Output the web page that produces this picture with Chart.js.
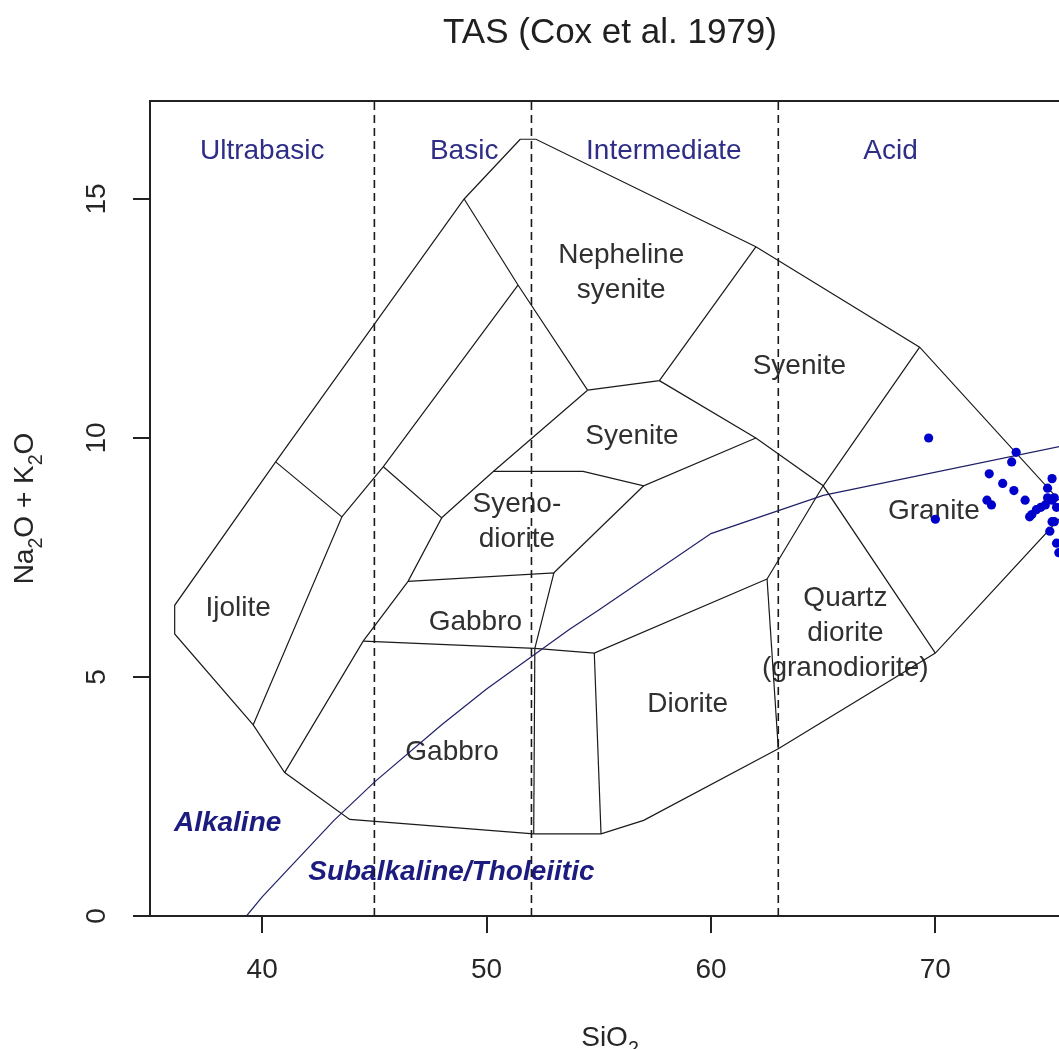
<!DOCTYPE html>
<html>
<head>
<meta charset="utf-8">
<script src="https://cdn.jsdelivr.net/npm/chart.js@4.4.1/dist/chart.umd.min.js"></script>
<style>
  html, body { margin: 0; padding: 0; background: #ffffff; overflow: hidden; }
  #wrap { width: 1059px; height: 1049px; overflow: hidden; position: relative; }
  canvas { display: block; }
</style>
</head>
<body>
<div id="wrap"><canvas id="tas" width="1110" height="1049"></canvas></div>
<script>
const FAMILY = "'Liberation Sans', Arial, Helvetica, sans-serif";

// Sample analyses (wt.%)
const sampleSiO2    = [69.7, 73.6, 73.4, 72.4, 73.0, 73.5, 74.0, 72.3, 72.5, 70.0, 75.2, 75.0, 75.0, 75.2, 75.3, 74.9, 74.7, 74.5, 74.3, 74.2, 75.4, 75.2, 75.3, 75.1, 75.4, 75.5];
const sampleAlkalis = [10.0, 9.7, 9.5, 9.25, 9.05, 8.9, 8.7, 8.7, 8.6, 8.3, 9.15, 8.95, 8.75, 8.7, 8.75, 8.6, 8.55, 8.5, 8.4, 8.35, 8.55, 8.25, 8.25, 8.05, 7.8, 7.6];

// Axis ranges and ticks
const xRange = [35, 76];
const yRange = [0, 17.05];
const xTickValues = [40, 50, 60, 70];
const yTickValues = [0, 5, 10, 15];

// Outer limit of the plutonic fields (SiO2, Na2O+K2O)
const fieldOutline = [[51.5, 16.25], [52.2, 16.25], [62, 14], [69.3, 11.9], [75.9, 8.5], [70, 5.5], [63, 3.5], [57, 2.0], [55.1, 1.72], [52.1, 1.72], [43.9, 2.02], [41, 3.0], [39.6, 4.0], [36.1, 5.9], [36.1, 6.5], [40.6, 9.5], [49, 15], [51.5, 16.25]];

// Internal field boundaries
const ijoliteEdge      = [[40.6, 9.5], [43.55, 8.35], [39.6, 4.0]];
const basicStripEdge   = [[43.55, 8.35], [45.4, 9.4], [51.4, 13.2]];
const nephSyeniteLeft  = [[49, 15], [51.4, 13.2], [54.5, 11.0]];
const nephSyeniteBase  = [[54.5, 11.0], [57.7, 11.2], [62, 14]];
const syeniteBase      = [[57.7, 11.2], [62, 10], [65, 9], [70, 5.5]];
const graniteEdge      = [[69.3, 11.9], [65, 9], [62.5, 7.05]];
const syeniteLeft      = [[54.5, 11.0], [50.3, 9.3], [48, 8.33]];
const gabbroWest       = [[45.4, 9.4], [48, 8.33], [46.5, 7.0], [44.5, 5.75], [41, 3.0]];
const syenodioriteTop  = [[50.3, 9.3], [54.3, 9.3], [57, 9.0], [62, 10]];
const gabbroUpperTop   = [[46.5, 7.0], [53, 7.18], [52.15, 5.6]];
const gabbroUpperBase  = [[44.5, 5.75], [52.15, 5.6], [54.8, 5.5], [62.5, 7.05]];
const syenodioriteEast = [[53, 7.18], [57, 9.0]];
const gabbroLowerEast  = [[52.15, 5.6], [52.1, 1.72]];
const dioriteWest      = [[54.8, 5.5], [55.1, 1.72]];
const dioriteEast      = [[62.5, 7.05], [63, 3.5]];
const fieldEdges = [ijoliteEdge, basicStripEdge, nephSyeniteLeft, nephSyeniteBase, syeniteBase, graniteEdge,
  syeniteLeft, gabbroWest, syenodioriteTop, gabbroUpperTop, gabbroUpperBase, syenodioriteEast,
  gabbroLowerEast, dioriteWest, dioriteEast];

// Alkaline / subalkaline divide
const alkalineDivide = [[39.3, 0], [40, 0.4], [43.2, 2], [45, 2.8], [48, 4], [50, 4.75], [53.7, 6], [55, 6.4], [60, 8], [65, 8.8], [77.4, 10]];

// Silica classes
const silicaBounds = [45, 52, 63];
const silicaClassNames = ['Ultrabasic', 'Basic', 'Intermediate', 'Acid'];
const silicaClassX = [40.0, 49.0, 57.9, 68.0];
const silicaClassY = [16.0, 16.0, 16.0, 16.0];

// Field names
const rockNames = ['Ijolite', 'Gabbro', 'Gabbro', 'Syeno-\ndiorite', 'Syenite', 'Nepheline\nsyenite', 'Syenite', 'Granite', 'Quartz\ndiorite\n(granodiorite)', 'Diorite'];
const rockX = [38.93, 49.5, 48.46, 51.35, 56.48, 56.0, 63.94, 69.93, 65.99, 58.96];
const rockY = [6.44, 6.14, 3.42, 8.24, 10.04, 13.45, 11.51, 8.47, 5.92, 4.43];

// Series names
const seriesNames = ['Alkaline', 'Subalkaline/Tholeiitic'];
const seriesX = [38.46, 48.43];
const seriesY = [1.95, 0.92];

const toPoints = arr => arr.map(p => ({ x: p[0], y: p[1] }));

const datasets = [];
datasets.push({
  label: 'samples',
  data: sampleSiO2.map((v, i) => ({ x: v, y: sampleAlkalis[i] })),
  pointRadius: 4.6,
  pointBackgroundColor: '#0000cc',
  pointBorderWidth: 0,
  showLine: false
});
datasets.push({
  label: 'divide',
  data: toPoints(alkalineDivide),
  showLine: true, pointRadius: 0, borderWidth: 1.2, borderColor: '#1f1f66', tension: 0, fill: false
});
datasets.push({
  label: 'outline',
  data: toPoints(fieldOutline),
  showLine: true, pointRadius: 0, borderWidth: 1.2, borderColor: '#1a1a1a', tension: 0, fill: false
});
fieldEdges.forEach((edge, i) => datasets.push({
  label: 'edge' + i,
  data: toPoints(edge),
  showLine: true, pointRadius: 0, borderWidth: 1.2, borderColor: '#1a1a1a', tension: 0, fill: false
}));
silicaBounds.forEach(b => datasets.push({
  label: 'silica ' + b,
  data: [{ x: b, y: yRange[0] }, { x: b, y: yRange[1] }],
  showLine: true, pointRadius: 0, borderWidth: 1.6, borderColor: '#1a1a1a', borderDash: [8, 5], fill: false
}));

function drawRich(ctx, parts, cx, baseline, size, vertical) {
  ctx.save();
  ctx.translate(cx, baseline);
  if (vertical) ctx.rotate(-Math.PI / 2);
  const sub = size * 0.7;
  let total = 0;
  const widths = parts.map(p => {
    ctx.font = (p.sub ? sub : size) + 'px ' + FAMILY;
    const w = ctx.measureText(p.t).width;
    total += w;
    return w;
  });
  let x = -total / 2;
  ctx.textAlign = 'left';
  ctx.textBaseline = 'alphabetic';
  parts.forEach((p, i) => {
    ctx.font = (p.sub ? sub : size) + 'px ' + FAMILY;
    ctx.fillText(p.t, x, p.sub ? size * 0.33 : 0);
    x += widths[i];
  });
  ctx.restore();
}

const annotate = {
  id: 'annotate',
  beforeDatasetsDraw(chart) {
    const { ctx } = chart;
    const xs = chart.scales.x, ys = chart.scales.y;
    ctx.save();
    ctx.textAlign = 'center';
    ctx.textBaseline = 'middle';

    ctx.font = '28px ' + FAMILY;
    ctx.fillStyle = '#303030';
    rockNames.forEach((name, i) => {
      const lines = name.split('\n');
      const px = xs.getPixelForValue(rockX[i]);
      const py = ys.getPixelForValue(rockY[i]);
      lines.forEach((ln, j) => ctx.fillText(ln, px, py + (j - (lines.length - 1) / 2) * 35));
    });

    ctx.fillStyle = '#2e2e86';
    silicaClassNames.forEach((name, i) => {
      ctx.fillText(name, xs.getPixelForValue(silicaClassX[i]), ys.getPixelForValue(silicaClassY[i]));
    });

    ctx.font = 'italic bold 28px ' + FAMILY;
    ctx.fillStyle = '#1c1c80';
    seriesNames.forEach((name, i) => {
      ctx.fillText(name, xs.getPixelForValue(seriesX[i]), ys.getPixelForValue(seriesY[i]));
    });
    ctx.restore();
  },
  afterDatasetsDraw(chart) {
    const { ctx, chartArea: a } = chart;
    ctx.save();
    ctx.strokeStyle = '#222222';
    ctx.lineWidth = 2;
    ctx.strokeRect(a.left, a.top, a.right - a.left, a.bottom - a.top);
    ctx.restore();
  },
  afterDraw(chart) {
    const { ctx, chartArea: a } = chart;
    const cx = (a.left + a.right) / 2;
    ctx.save();
    ctx.fillStyle = '#202020';
    ctx.font = '35px ' + FAMILY;
    ctx.textAlign = 'center';
    ctx.textBaseline = 'alphabetic';
    ctx.fillText('TAS (Cox et al. 1979)', cx, 43);
    ctx.fillStyle = '#262626';
    drawRich(ctx, [{ t: 'SiO' }, { t: '2', sub: true }], cx, 1046, 28, false);
    drawRich(ctx, [{ t: 'Na' }, { t: '2', sub: true }, { t: 'O + K' }, { t: '2', sub: true }, { t: 'O' }],
      33, (a.top + a.bottom) / 2, 28, true);
    ctx.restore();
  }
};

Chart.defaults.font.family = FAMILY;

new Chart(document.getElementById('tas'), {
  type: 'scatter',
  data: { datasets },
  options: {
    responsive: false,
    animation: false,
    devicePixelRatio: 1,
    events: [],
    layout: { padding: { top: 101, right: 40, left: 0, bottom: 0 } },
    plugins: { legend: { display: false }, tooltip: { enabled: false }, title: { display: false } },
    scales: {
      x: {
        type: 'linear', min: xRange[0], max: xRange[1],
        afterBuildTicks: s => { s.ticks = xTickValues.map(v => ({ value: v })); },
        afterFit: s => { s.height = 133; },
        border: { display: false },
        grid: { display: true, drawOnChartArea: false, drawTicks: true, tickLength: 17, color: '#222222', lineWidth: 2 },
        ticks: { autoSkip: false, maxRotation: 0, padding: 20, color: '#262626', font: { size: 28 } }
      },
      y: {
        type: 'linear', min: yRange[0], max: yRange[1],
        afterBuildTicks: s => { s.ticks = yTickValues.map(v => ({ value: v })); },
        afterFit: s => { s.width = 150; },
        border: { display: false },
        grid: { display: true, drawOnChartArea: false, drawTicks: true, tickLength: 17, color: '#222222', lineWidth: 2 },
        ticks: { autoSkip: false, minRotation: 90, maxRotation: 90, crossAlign: 'center', padding: 20, color: '#262626', font: { size: 28 } }
      }
    }
  },
  plugins: [annotate]
});
</script>
</body>
</html>
